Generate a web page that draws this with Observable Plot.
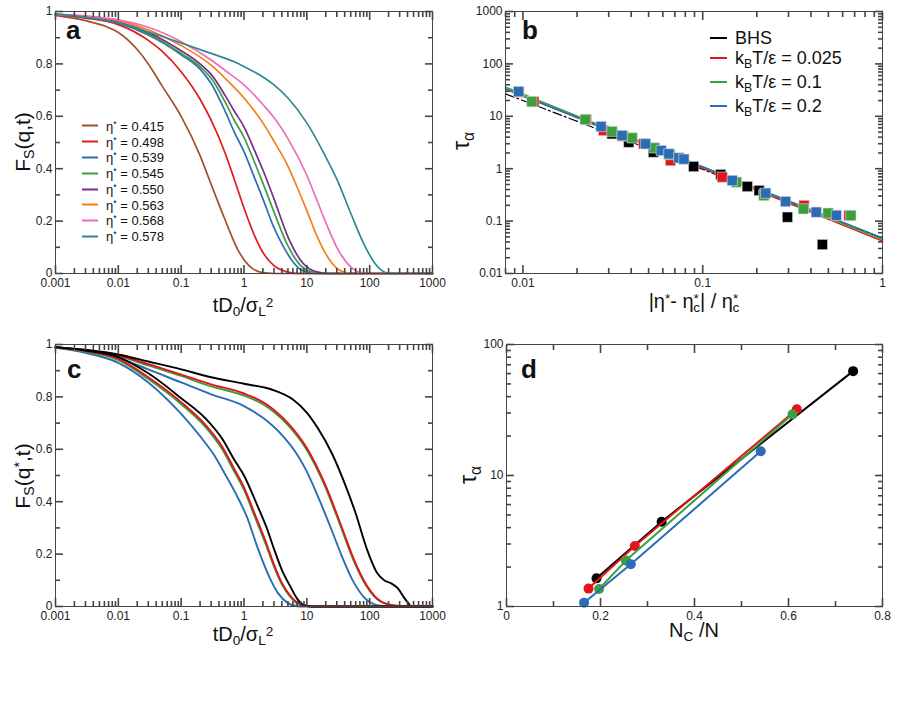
<!DOCTYPE html>
<html>
<head>
<meta charset="utf-8">
<script src="https://cdn.jsdelivr.net/npm/d3@7"></script>
<script src="https://cdn.jsdelivr.net/npm/@observablehq/plot@0.6"></script>
<style>
  body { margin: 0; background: #fff; }
  #fig { position: relative; width: 917px; height: 708px; background: #fff; overflow: hidden;
         font-family: "Liberation Sans", Arial, Helvetica, sans-serif; color: #111; }
  .panel { position: absolute; }
  .lbl { position: absolute; white-space: nowrap; font-size: 21px; line-height: 1; transform: translate(-50%, -50%); }
  .rot { transform: translate(-50%, -50%) rotate(-90deg); }
  .letter { position: absolute; font-weight: bold; font-size: 26px; line-height: 1; }
  sub { font-size: 0.68em; vertical-align: -0.32em; line-height: 0; }
  sup { font-size: 0.68em; vertical-align: 0.4em; line-height: 0; }
  .legA { position: absolute; font-size: 13px; line-height: 1; }
  .legB { position: absolute; font-size: 18px; line-height: 1; }
  .row { position: absolute; left: 0; white-space: nowrap; display: flex; align-items: center; transform: translateY(-50%); }
  .sw { display: inline-block; height: 0; border-top: 2px solid; }
</style>
</head>
<body>
<div id="fig"></div>
<script>
// ---------- panel a: F_S(q,t) for several packing fractions ----------
const etaLabels = ["0.415", "0.498", "0.539", "0.545", "0.550", "0.563", "0.568", "0.578"];
const etaColors = ["#a0522d", "#e31a1c", "#2f6db4", "#3aa23a", "#7a2a8e", "#f57f17", "#ee6cc0", "#2c8a91"];
const fs415 = [[0.001,0.985],[0.003,0.965],[0.006,0.945],[0.01,0.92],[0.02,0.855],[0.03,0.80],[0.05,0.715],[0.1,0.60],[0.2,0.45],[0.3,0.34],[0.5,0.205],[0.8,0.09],[1.2,0.03],[2,0.003],[3,0],[1000,0]];
const fs498 = [[0.001,0.987],[0.003,0.975],[0.01,0.95],[0.03,0.89],[0.05,0.848],[0.1,0.77],[0.2,0.665],[0.3,0.585],[0.5,0.46],[0.7,0.36],[1,0.25],[1.5,0.14],[2,0.08],[3,0.03],[5,0.005],[7,0],[1000,0]];
const fs539 = [[0.001,0.988],[0.003,0.978],[0.01,0.955],[0.03,0.91],[0.1,0.835],[0.2,0.78],[0.3,0.725],[0.5,0.62],[0.7,0.54],[1,0.465],[1.5,0.36],[2,0.285],[3,0.175],[4.3,0.1],[6,0.045],[8,0.015],[12,0.002],[16,0],[1000,0]];
const fs545 = [[0.001,0.988],[0.003,0.979],[0.01,0.957],[0.03,0.915],[0.1,0.84],[0.2,0.79],[0.3,0.745],[0.5,0.655],[0.7,0.585],[1,0.52],[1.5,0.42],[2,0.345],[3,0.235],[5,0.105],[8,0.03],[12,0.006],[18,0],[1000,0]];
const fs550 = [[0.001,0.988],[0.003,0.98],[0.01,0.96],[0.03,0.92],[0.1,0.85],[0.2,0.80],[0.3,0.76],[0.5,0.68],[0.7,0.62],[1,0.56],[1.5,0.465],[2,0.395],[3,0.285],[5,0.14],[8,0.05],[12,0.013],[18,0.002],[25,0],[1000,0]];
const fs563 = [[0.001,0.989],[0.003,0.982],[0.01,0.965],[0.03,0.93],[0.1,0.87],[0.3,0.795],[0.5,0.745],[1,0.67],[2,0.575],[3,0.505],[5,0.41],[7,0.33],[10,0.24],[15,0.135],[20,0.075],[30,0.02],[45,0.002],[60,0],[1000,0]];
const fs568 = [[0.001,0.99],[0.003,0.983],[0.01,0.968],[0.03,0.94],[0.1,0.885],[0.3,0.815],[0.5,0.775],[1,0.72],[2,0.645],[3,0.595],[5,0.515],[10,0.375],[15,0.27],[20,0.195],[30,0.1],[50,0.025],[70,0.004],[100,0],[1000,0]];
const fs578 = [[0.001,0.99],[0.003,0.978],[0.01,0.957],[0.03,0.922],[0.1,0.88],[0.3,0.84],[0.7,0.808],[1,0.79],[2,0.75],[3,0.72],[5,0.67],[10,0.575],[20,0.445],[30,0.36],[50,0.23],[80,0.115],[120,0.04],[170,0.006],[220,0],[1000,0]];
const curvesA = [fs415, fs498, fs539, fs545, fs550, fs563, fs568, fs578];

// ---------- panel b: tau_alpha vs reduced distance to eta_c ----------
const seriesNames = ["BHS", "0.025", "0.1", "0.2"];
const seriesColors = ["#000000", "#e3141b", "#3c9f3c", "#2a6db5"];
const bhsX = [0.0313, 0.0388, 0.0532, 0.089, 0.126, 0.177, 0.206, 0.296, 0.463];
const bhsTau = [4.63, 3.2, 2.07, 1.1, 0.775, 0.457, 0.384, 0.119, 0.0357];
const t025X = [0.0095, 0.0115, 0.0225, 0.0281, 0.036, 0.047, 0.0662, 0.1285, 0.22, 0.366, 0.55, 0.651];
const t025Tau = [29, 19, 8.6, 5.36, 4.2, 2.98, 1.43, 0.69, 0.33, 0.199, 0.13, 0.128];
const t01X = [0.0112, 0.0222, 0.0313, 0.0405, 0.0539, 0.0657, 0.154, 0.219, 0.363, 0.498, 0.667];
const t01Tau = [19.1, 8.7, 5.13, 3.88, 2.5, 1.86, 0.553, 0.308, 0.171, 0.142, 0.128];
const t02X = [0.00946, 0.0272, 0.0356, 0.0481, 0.0588, 0.0648, 0.0737, 0.0786, 0.146, 0.224, 0.289, 0.428, 0.554];
const t02Tau = [29.7, 6.38, 4.3, 2.98, 2.22, 1.92, 1.61, 1.52, 0.596, 0.341, 0.236, 0.148, 0.128];
// power-law fits, end points at the edges of the x range
const fitBHS = [[0.008, 26.8], [1, 0.047]];
const fit025 = [[0.008, 33.5], [1, 0.0414]];
const fit01 = [[0.008, 36], [1, 0.0445]];
const fit02 = [[0.008, 33], [1, 0.0479]];

// ---------- panel c: F_S(q*,t), two state points per system ----------
const slowBHS = [[0.001,0.99],[0.003,0.98],[0.01,0.962],[0.03,0.935],[0.1,0.905],[0.3,0.875],[1,0.85],[3,0.825],[6,0.79],[10,0.74],[15,0.68],[25,0.585],[40,0.47],[60,0.355],[90,0.22],[130,0.13],[170,0.1],[220,0.088],[280,0.07],[350,0.035],[420,0.01],[450,0],[1000,0]];
const slow025 = [[0.001,0.99],[0.003,0.978],[0.01,0.958],[0.03,0.925],[0.1,0.885],[0.3,0.848],[1,0.813],[2,0.78],[3,0.75],[5,0.70],[10,0.605],[20,0.46],[35,0.31],[55,0.185],[90,0.08],[150,0.02],[250,0.004],[400,0],[1000,0]];
const slow01 = [[0.001,0.99],[0.003,0.977],[0.01,0.956],[0.03,0.92],[0.1,0.88],[0.3,0.84],[1,0.805],[2,0.772],[3,0.742],[5,0.692],[10,0.597],[20,0.452],[35,0.302],[55,0.178],[90,0.075],[150,0.018],[250,0.003],[400,0],[1000,0]];
const slow02 = [[0.001,0.988],[0.003,0.973],[0.01,0.948],[0.03,0.905],[0.1,0.855],[0.3,0.81],[1,0.765],[2,0.72],[4,0.655],[7,0.58],[10,0.515],[15,0.42],[25,0.29],[35,0.2],[55,0.095],[90,0.025],[150,0.003],[250,0],[1000,0]];
const fastBHS = [[0.001,0.99],[0.003,0.977],[0.01,0.952],[0.03,0.89],[0.1,0.795],[0.25,0.715],[0.45,0.64],[0.7,0.56],[1,0.5],[1.6,0.39],[2.3,0.3],[3,0.22],[4,0.14],[5.5,0.075],[7,0.03],[9,0.005],[12,0],[1000,0]];
const fast025 = [[0.001,0.99],[0.003,0.975],[0.01,0.945],[0.03,0.875],[0.1,0.78],[0.25,0.69],[0.45,0.61],[0.7,0.525],[1,0.455],[1.5,0.35],[2.2,0.25],[3,0.16],[4,0.09],[5.5,0.04],[7,0.015],[10,0.002],[13,0],[1000,0]];
const fast01 = [[0.001,0.989],[0.003,0.973],[0.01,0.94],[0.03,0.868],[0.1,0.772],[0.25,0.682],[0.45,0.6],[0.7,0.515],[1,0.445],[1.5,0.34],[2.2,0.24],[3,0.152],[4,0.085],[5.5,0.036],[7,0.012],[10,0.001],[13,0],[1000,0]];
const fast02 = [[0.001,0.987],[0.003,0.968],[0.01,0.93],[0.03,0.855],[0.1,0.735],[0.2,0.65],[0.33,0.58],[0.5,0.505],[0.8,0.415],[1.1,0.345],[1.7,0.215],[2.5,0.115],[3.5,0.05],[5,0.013],[7,0.001],[9,0],[1000,0]];

// ---------- panel d: tau_alpha vs fraction of caged particles ----------
const ncBHS = [0.1915, 0.33, 0.7375];
const tauNcBHS = [1.64, 4.44, 62.6];
const nc025 = [0.1745, 0.273, 0.6177];
const tauNc025 = [1.37, 2.9, 32];
const nc01 = [0.197, 0.254, 0.6085];
const tauNc01 = [1.36, 2.24, 29.3];
const nc02 = [0.165, 0.2645, 0.541];
const tauNc02 = [1.07, 2.1, 15.3];

// ---------- tick values ----------
const timeTicks = [0.001, 0.01, 0.1, 1, 10, 100, 1000];
const fsTicks = [0, 0.2, 0.4, 0.6, 0.8, 1];
const fsMinor = [0.1, 0.3, 0.5, 0.7, 0.9];
const distTicks = [0.01, 0.1, 1];
const tauTicksB = [0.01, 0.1, 1, 10, 100, 1000];
const ncTicks = [0, 0.2, 0.4, 0.6, 0.8];
const ncMinor = [0.1, 0.3, 0.5, 0.7];
const tauTicksD = [1, 10, 100];

function logMinor(lo, hi) {
  const out = [];
  for (let e = Math.floor(Math.log10(lo)); e < Math.ceil(Math.log10(hi)); e++) {
    for (let m = 2; m <= 9; m++) {
      const v = +(m * Math.pow(10, e)).toPrecision(3);
      if (v >= lo * 0.999 && v <= hi * 1.001) out.push(v);
    }
  }
  return out;
}

const fmt = d => String(d);
const tickColor = "#444";
const textColor = "#222";
const MAJOR = 8, MINOR = 5;

// xmgrace-style frame: inward ticks on all four sides, tick labels on the
// left and bottom only. Each tick is an axis tick pushed back inside the frame.
function inwardAxes(xMajor, xMinor, yMajor, yMinor) {
  const tk = {fill: "none", label: null, stroke: tickColor, strokeWidth: 1.6};
  const tx = (ticks, len) => [
    Plot.axisX({...tk, anchor: "bottom", ticks, tickSize: len, dy: -len}),
    Plot.axisX({...tk, anchor: "top", ticks, tickSize: len, dy: len})
  ];
  const ty = (ticks, len) => [
    Plot.axisY({...tk, anchor: "left", ticks, tickSize: len, dx: len}),
    Plot.axisY({...tk, anchor: "right", ticks, tickSize: len, dx: -len})
  ];
  return [
    ...tx(xMajor, MAJOR), ...tx(xMinor, MINOR),
    ...ty(yMajor, MAJOR), ...ty(yMinor, MINOR),
    Plot.axisX({anchor: "bottom", ticks: xMajor, tickSize: 0, tickPadding: 5, tickFormat: fmt, label: null, fill: textColor}),
    Plot.axisY({anchor: "left", ticks: yMajor, tickSize: 0, tickPadding: 3, tickFormat: fmt, label: null, fill: textColor})
  ];
}

const plotStyle = {fontFamily: "'Liberation Sans', Arial, Helvetica, sans-serif", fontSize: "12px", color: textColor, background: "transparent", overflow: "visible"};
const X = d => d[0], Y = d => d[1];

const panelA = Plot.plot({
  width: 450, height: 320, marginLeft: 55, marginRight: 18, marginTop: 11, marginBottom: 47,
  style: plotStyle,
  x: {type: "log", domain: [0.001, 1000]},
  y: {domain: [0, 1]},
  marks: [
    ...curvesA.map((c, i) => Plot.line(c, {x: X, y: Y, stroke: etaColors[i], strokeWidth: 1.7, curve: "monotone-x"})),
    ...inwardAxes(timeTicks, logMinor(0.001, 1000), fsTicks, fsMinor),
    Plot.frame({stroke: "#444"})
  ]
});

const pointsB = [[bhsX, bhsTau], [t025X, t025Tau], [t01X, t01Tau], [t02X, t02Tau]]
  .map(([xs, ts]) => xs.map((x, i) => ({x, tau: ts[i]})));
const fitsB = [fitBHS, fit025, fit01, fit02];

const panelB = Plot.plot({
  width: 467, height: 320, marginLeft: 55, marginRight: 35, marginTop: 11, marginBottom: 47,
  style: plotStyle,
  x: {type: "log", domain: [0.008, 1]},
  y: {type: "log", domain: [0.01, 1000]},
  marks: [
    ...inwardAxes(distTicks, logMinor(0.008, 1), tauTicksB, logMinor(0.01, 1000)),
    Plot.line(fitBHS, {x: X, y: Y, stroke: seriesColors[0], strokeWidth: 1.2, strokeDasharray: "9,3,2,3"}),
    ...fitsB.slice(1).map((f, i) => Plot.line(f, {x: X, y: Y, stroke: seriesColors[i + 1], strokeWidth: 1.5})),
    ...pointsB.map((p, i) => Plot.dot(p, {x: "x", y: "tau", symbol: "square", r: 5.8, fill: seriesColors[i], stroke: "#ddd", strokeWidth: 0.6})),
    Plot.frame({stroke: "#444"})
  ]
});

const curvesC = [slow02, slow01, slow025, slowBHS, fast02, fast01, fast025, fastBHS];
const colorsC = [seriesColors[3], seriesColors[2], seriesColors[1], seriesColors[0], seriesColors[3], seriesColors[2], seriesColors[1], seriesColors[0]];

const panelC = Plot.plot({
  width: 450, height: 320, marginLeft: 55, marginRight: 18, marginTop: 24, marginBottom: 34,
  style: plotStyle,
  x: {type: "log", domain: [0.001, 1000]},
  y: {domain: [0, 1]},
  marks: [
    ...curvesC.map((c, i) => Plot.line(c, {x: X, y: Y, stroke: colorsC[i], strokeWidth: 1.9, curve: "monotone-x"})),
    ...inwardAxes(timeTicks, logMinor(0.001, 1000), fsTicks, fsMinor),
    Plot.frame({stroke: "#444"})
  ]
});

const pointsD = [[ncBHS, tauNcBHS], [nc025, tauNc025], [nc01, tauNc01], [nc02, tauNc02]]
  .map(([xs, ts]) => xs.map((x, i) => ({nc: x, tau: ts[i]})));

const panelD = Plot.plot({
  width: 467, height: 320, marginLeft: 56, marginRight: 35, marginTop: 24, marginBottom: 34,
  style: plotStyle,
  x: {domain: [0, 0.8]},
  y: {type: "log", domain: [1, 100]},
  marks: [
    ...inwardAxes(ncTicks, ncMinor, tauTicksD, logMinor(1, 100)),
    ...pointsD.flatMap((p, i) => [
      Plot.line(p, {x: "nc", y: "tau", stroke: seriesColors[i], strokeWidth: 2}),
      Plot.dot(p, {x: "nc", y: "tau", r: 5, fill: seriesColors[i]})
    ]),
    Plot.frame({stroke: "#444"})
  ]
});

// ---------- assemble the 2x2 figure ----------
const fig = document.getElementById("fig");
function place(node, left, top) {
  const d = document.createElement("div");
  d.className = "panel";
  d.style.left = left + "px";
  d.style.top = top + "px";
  d.appendChild(node);
  fig.appendChild(d);
}
place(panelA, 0, 0);
place(panelB, 450, 0);
place(panelC, 0, 320);
place(panelD, 450, 320);

function html(cls, left, top, inner, extra) {
  const d = document.createElement("div");
  d.className = cls;
  d.style.left = left + "px";
  d.style.top = top + "px";
  if (extra) Object.assign(d.style, extra);
  d.innerHTML = inner;
  fig.appendChild(d);
  return d;
}

// panel letters
html("letter", 66, 17, "a");
html("letter", 522, 17, "b");
html("letter", 67, 356, "c");
html("letter", 521, 356, "d");

// axis titles
const etaC = 'η<sup>*</sup><sub style="margin-left:-0.42em">c</sub>';
html("lbl rot", 22, 142, "F<sub>S</sub>(q,t)");
html("lbl", 243, 305, "tD<sub>0</sub>/σ<sub>L</sub><sup>2</sup>", {fontSize: "20px"});
html("lbl rot", 461, 141, "τ<sub>α</sub>", {fontSize: "23px"});
html("lbl", 694, 301, `|η<sup>*</sup>- ${etaC}| / ${etaC}`, {fontSize: "20px"});
html("lbl rot", 22, 476, "F<sub>S</sub>(q<sup>*</sup>,t)");
html("lbl", 243, 634, "tD<sub>0</sub>/σ<sub>L</sub><sup>2</sup>", {fontSize: "20px"});
html("lbl rot", 468, 475, "τ<sub>α</sub>", {fontSize: "23px"});
html("lbl", 694, 630, "N<sub>C</sub> /N", {fontSize: "20px"});

// legend, panel a
const legA = html("legA", 82, 0, "");
const rowsA = [125.7, 141.7, 157.3, 173, 189, 204.7, 220.3, 236.3];
etaLabels.forEach((lab, i) => {
  const r = document.createElement("div");
  r.className = "row";
  r.style.top = rowsA[i] + "px";
  r.innerHTML = `<span class="sw" style="width:16px;border-color:${etaColors[i]};margin-right:8px"></span><span>η<sup>*</sup> = ${lab}</span>`;
  legA.appendChild(r);
});

// legend, panel b
const legB = html("legB", 710, 0, "");
const rowsB = [38, 58, 81.5, 106];
const legTextB = ["BHS", "k<sub>B</sub>T/ε = 0.025", "k<sub>B</sub>T/ε = 0.1", "k<sub>B</sub>T/ε = 0.2"];
legTextB.forEach((t, i) => {
  const r = document.createElement("div");
  r.className = "row";
  r.style.top = rowsB[i] + "px";
  r.innerHTML = `<span class="sw" style="width:17px;border-color:${seriesColors[i]};margin-right:8px"></span><span>${t}</span>`;
  legB.appendChild(r);
});
</script>
</body>
</html>
